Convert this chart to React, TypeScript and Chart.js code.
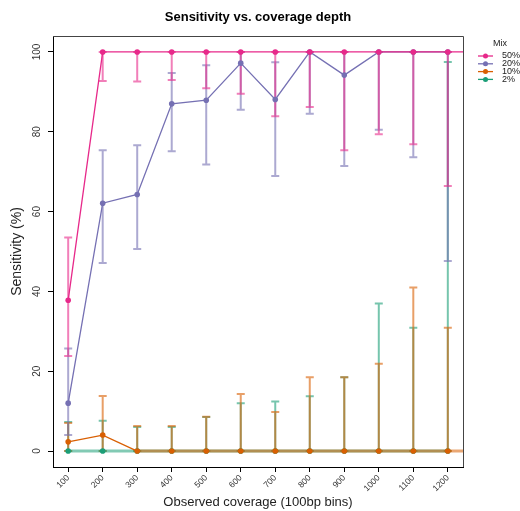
import React, { useEffect, useRef } from "react";
import { Chart, registerables } from "chart.js";

Chart.register(...registerables);

// ---- data ----
const coverage = [100, 200, 300, 400, 500, 600, 700, 800, 900, 1000, 1100, 1200, 1300];
const tickValues = [100, 200, 300, 400, 500, 600, 700, 800, 900, 1000, 1100, 1200];
const tickLabels = ["100", "200", "300", "400", "500", "600", "700", "800", "900", "1000", "1100", "1200"];
const yTickValues = [0, 20, 40, 60, 80, 100];
const yTickLabels = ["0", "20", "40", "60", "80", "100"];

const mixLabels = ["50%", "20%", "10%", "2%"];
const mixColors = ["#E7298A", "#7570B3", "#D95F02", "#1B9E77"];

const sens50 = [37.8, 100, 100, 100, 100, 100, 100, 100, 100, 100, 100, 100, 100];
const lo50 = [23.8, 92.7, 92.6, 93.0, 90.9, 89.5, 83.9, 86.2, 75.4, 79.4, 76.9, 66.4, null];
const hi50 = [53.5, 100, 100, 100, 100, 100, 100, 100, 100, 100, 100, 100, null];

const sens20 = [12.0, 62.1, 64.3, 87.0, 87.9, 97.2, 88.1, 100, 94.2, 100, 100, 100, null];
const lo20 = [4.0, 47.1, 50.6, 75.1, 71.8, 85.5, 68.9, 84.5, 71.4, 80.5, 73.6, 47.6, null];
const hi20 = [25.7, 75.4, 76.6, 94.7, 96.7, 100, 97.4, 100, 100, 100, 100, 100, null];

const sens10 = [2.3, 4.0, 0, 0, 0, 0, 0, 0, 0, 0, 0, 0, 0];
const lo10 = [0, 0, 0, 0, 0, 0, 0, 0, 0, 0, 0, 0, null];
const hi10 = [7.0, 13.8, 6.3, 6.3, 8.6, 14.3, 9.8, 18.5, 18.5, 21.9, 41.0, 30.9, null];

const sens2 = [0, 0, 0, 0, 0, 0, 0, 0, 0, 0, 0, 0, null];
const lo2 = [0, 0, 0, 0, 0, 0, 0, 0, 0, 0, 0, 0, null];
const hi2 = [7.3, 7.6, 6.0, 6.0, 8.5, 12.0, 12.4, 13.7, 18.5, 37.0, 30.9, 97.5, null];

const seriesValues = [sens50, sens20, sens10, sens2];
const seriesLo = [lo50, lo20, lo10, lo2];
const seriesHi = [hi50, hi20, hi10, hi2];

const FONT = "'Liberation Sans', Arial, Helvetica, sans-serif";

function rgba(hex: string, a: number) {
  const n = parseInt(hex.slice(1), 16);
  return `rgba(${(n >> 16) & 255},${(n >> 8) & 255},${n & 255},${a})`;
}

const errorBarPlugin = {
  id: "errorBars",
  beforeDatasetsDraw(chart: any) {
    const { ctx, chartArea, scales } = chart;
    const x = scales.x;
    const y = scales.y;
    ctx.save();
    ctx.beginPath();
    ctx.rect(chartArea.left, chartArea.top, chartArea.right - chartArea.left, chartArea.bottom - chartArea.top);
    ctx.clip();
    for (let d = seriesValues.length - 1; d >= 0; d--) {
      ctx.strokeStyle = rgba(mixColors[d], 0.6);
      ctx.lineWidth = 2;
      ctx.beginPath();
      coverage.forEach((c, i) => {
        const lo = seriesLo[d][i];
        const hi = seriesHi[d][i];
        if (lo == null || hi == null) return;
        const px = x.getPixelForValue(c);
        const y1 = y.getPixelForValue(lo);
        const y2 = y.getPixelForValue(hi);
        ctx.moveTo(px, y1);
        ctx.lineTo(px, y2);
        ctx.moveTo(px - 4, y1);
        ctx.lineTo(px + 4, y1);
        ctx.moveTo(px - 4, y2);
        ctx.lineTo(px + 4, y2);
      });
      ctx.stroke();
    }
    ctx.restore();
  },
};

const decorPlugin = {
  id: "decor",
  afterDraw(chart: any) {
    const { ctx, chartArea } = chart;
    ctx.save();
    // frame (top and right)
    ctx.strokeStyle = "#444";
    ctx.lineWidth = 1;
    ctx.beginPath();
    ctx.moveTo(chartArea.left, chartArea.top + 0.5);
    ctx.lineTo(chartArea.right + 0.5, chartArea.top + 0.5);
    ctx.lineTo(chartArea.right + 0.5, chartArea.bottom);
    ctx.stroke();
    // title
    ctx.fillStyle = "#000";
    ctx.font = `bold 13px ${FONT}`;
    ctx.textAlign = "center";
    ctx.textBaseline = "middle";
    ctx.fillText("Sensitivity vs. coverage depth", (chartArea.left + chartArea.right) / 2, 17);
    // legend
    ctx.font = `9px ${FONT}`;
    ctx.fillStyle = "#222";
    ctx.textAlign = "left";
    ctx.fillText("Mix", 493, 44);
    mixLabels.forEach((lab, i) => {
      const yy = 56 + i * 7.8;
      ctx.strokeStyle = mixColors[i];
      ctx.lineWidth = 1.3;
      ctx.beginPath();
      ctx.moveTo(478, yy);
      ctx.lineTo(493, yy);
      ctx.stroke();
      ctx.fillStyle = mixColors[i];
      ctx.beginPath();
      ctx.arc(485.5, yy, 2.5, 0, Math.PI * 2);
      ctx.fill();
      ctx.fillStyle = "#222";
      ctx.fillText(lab, 502, yy);
    });
    ctx.restore();
  },
};

export default function App() {
  const ref = useRef<HTMLCanvasElement | null>(null);
  useEffect(() => {
    if (!ref.current) return;
    Chart.defaults.font.family = FONT;
    const datasets = mixLabels.map((lab, d) => {
      const color = mixColors[d];
      const base: any = {
        label: lab,
        data: coverage.map((c, i) => ({ x: c, y: seriesValues[d][i] })),
        borderColor: color,
        backgroundColor: color,
        pointBackgroundColor: color,
        pointBorderColor: color,
        pointRadius: 2.8,
        pointBorderWidth: 0,
        borderWidth: 1.3,
        spanGaps: false,
        tension: 0,
      };
      if (d === 2) {
        base.segment = {
          borderColor: (c: any) => (c.p0.parsed.y === 0 && c.p1.parsed.y === 0 ? rgba(color, 0.55) : color),
          borderWidth: (c: any) => (c.p0.parsed.y === 0 && c.p1.parsed.y === 0 ? 3 : 1.3),
        };
      }
      if (d === 3) {
        base.borderColor = rgba(color, 0.55);
        base.borderWidth = 3;
      }
      return base;
    });
    const chart = new Chart(ref.current, {
      type: "line",
      data: { datasets },
      plugins: [errorBarPlugin, decorPlugin],
      options: {
        animation: false,
        responsive: true,
        maintainAspectRatio: false,
        parsing: false as any,
        layout: { padding: { left: 0, right: 57, top: 36, bottom: 0 } },
        plugins: { legend: { display: false }, tooltip: { enabled: false }, title: { display: false } },
        scales: {
          x: {
            type: "linear",
            min: 56,
            max: 1244,
            afterBuildTicks: (s: any) => {
              s.ticks = tickValues.map((v) => ({ value: v }));
            },
            afterFit: (s: any) => {
              s.height = 44;
            },
            grid: { display: true, drawOnChartArea: false, drawTicks: true, tickLength: 5, tickColor: "#000", color: "#000" },
            border: { display: true, color: "#000", width: 1 },
            ticks: {
              autoSkip: false,
              minRotation: 45,
              maxRotation: 45,
              padding: 1,
              color: "#333",
              font: { size: 8.5 },
              callback: (v: any) => tickLabels[tickValues.indexOf(Number(v))] ?? "",
            },
            title: { display: true, text: "Observed coverage (100bp bins)", color: "#222", font: { size: 13 }, padding: { top: 0, bottom: 1 } },
          },
          y: {
            type: "linear",
            min: -4,
            max: 104,
            afterBuildTicks: (s: any) => {
              s.ticks = yTickValues.map((v) => ({ value: v }));
            },
            afterFit: (s: any) => {
              s.width = 53;
            },
            grid: { display: true, drawOnChartArea: false, drawTicks: true, tickLength: 5, tickColor: "#000", color: "#000" },
            border: { display: true, color: "#000", width: 1 },
            ticks: {
              autoSkip: false,
              minRotation: 90,
              maxRotation: 90,
              crossAlign: "center",
              padding: 2,
              color: "#333",
              font: { size: 10 },
              callback: (v: any) => yTickLabels[yTickValues.indexOf(Number(v))] ?? "",
            },
            title: { display: true, text: "Sensitivity (%)", color: "#222", font: { size: 14 }, padding: { top: 8.6, bottom: 0 } },
          },
        },
      },
    });
    return () => chart.destroy();
  }, []);
  return (
    <div style={{ position: "fixed", left: 0, top: 0, width: 520, height: 511, background: "#fff" }}>
      <canvas ref={ref} />
    </div>
  );
}
